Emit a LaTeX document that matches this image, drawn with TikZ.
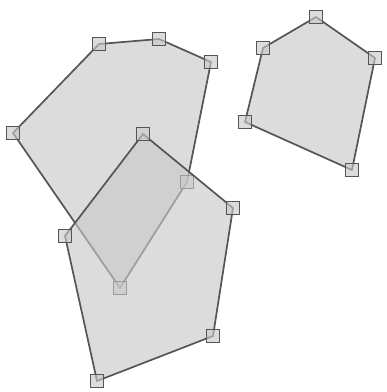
\documentclass[tikz,border=0pt]{standalone}
\definecolor{edgec}{HTML}{555555}
\definecolor{polyfill}{HTML}{C8C8C8}
\tikzset{
  poly/.style={draw=edgec, line width=1.7pt, fill=polyfill, fill opacity=0.63, line join=round},
  vbox/.style={draw=edgec, line width=1.7pt, fill=polyfill, fill opacity=0.63, minimum size=13pt, inner sep=0pt, shape=rectangle}
}
\begin{document}
\begin{tikzpicture}[x=1pt,y=-1pt]
\useasboundingbox (0,0) rectangle (387,392);
% polygon A
\coordinate (a1) at (13,133);
\coordinate (a2) at (99,44);
\coordinate (a3) at (159,39);
\coordinate (a4) at (211,62);
\coordinate (a5) at (187,182);
\coordinate (a6) at (120,288);
\path[poly] (a1) -- (a2) -- (a3) -- (a4) -- (a5) -- (a6) -- cycle;
\foreach \v in {a1,a2,a3,a4,a5,a6} \node[vbox] (n\v) at (\v) {};
% polygon C
\coordinate (c1) at (316,17);
\coordinate (c2) at (375,58);
\coordinate (c3) at (352,170);
\coordinate (c4) at (245,122);
\coordinate (c5) at (263,48);
\path[poly] (c1) -- (c2) -- (c3) -- (c4) -- (c5) -- cycle;
\foreach \v in {c1,c2,c3,c4,c5} \node[vbox] (n\v) at (\v) {};
% polygon B
\coordinate (b1) at (143,134);
\coordinate (b2) at (233,208);
\coordinate (b3) at (213,336);
\coordinate (b4) at (97,381);
\coordinate (b5) at (65,236);
\path[poly] (b1) -- (b2) -- (b3) -- (b4) -- (b5) -- cycle;
\foreach \v in {b1,b2,b3,b4,b5} \node[vbox] (n\v) at (\v) {};
\end{tikzpicture}
\end{document}
